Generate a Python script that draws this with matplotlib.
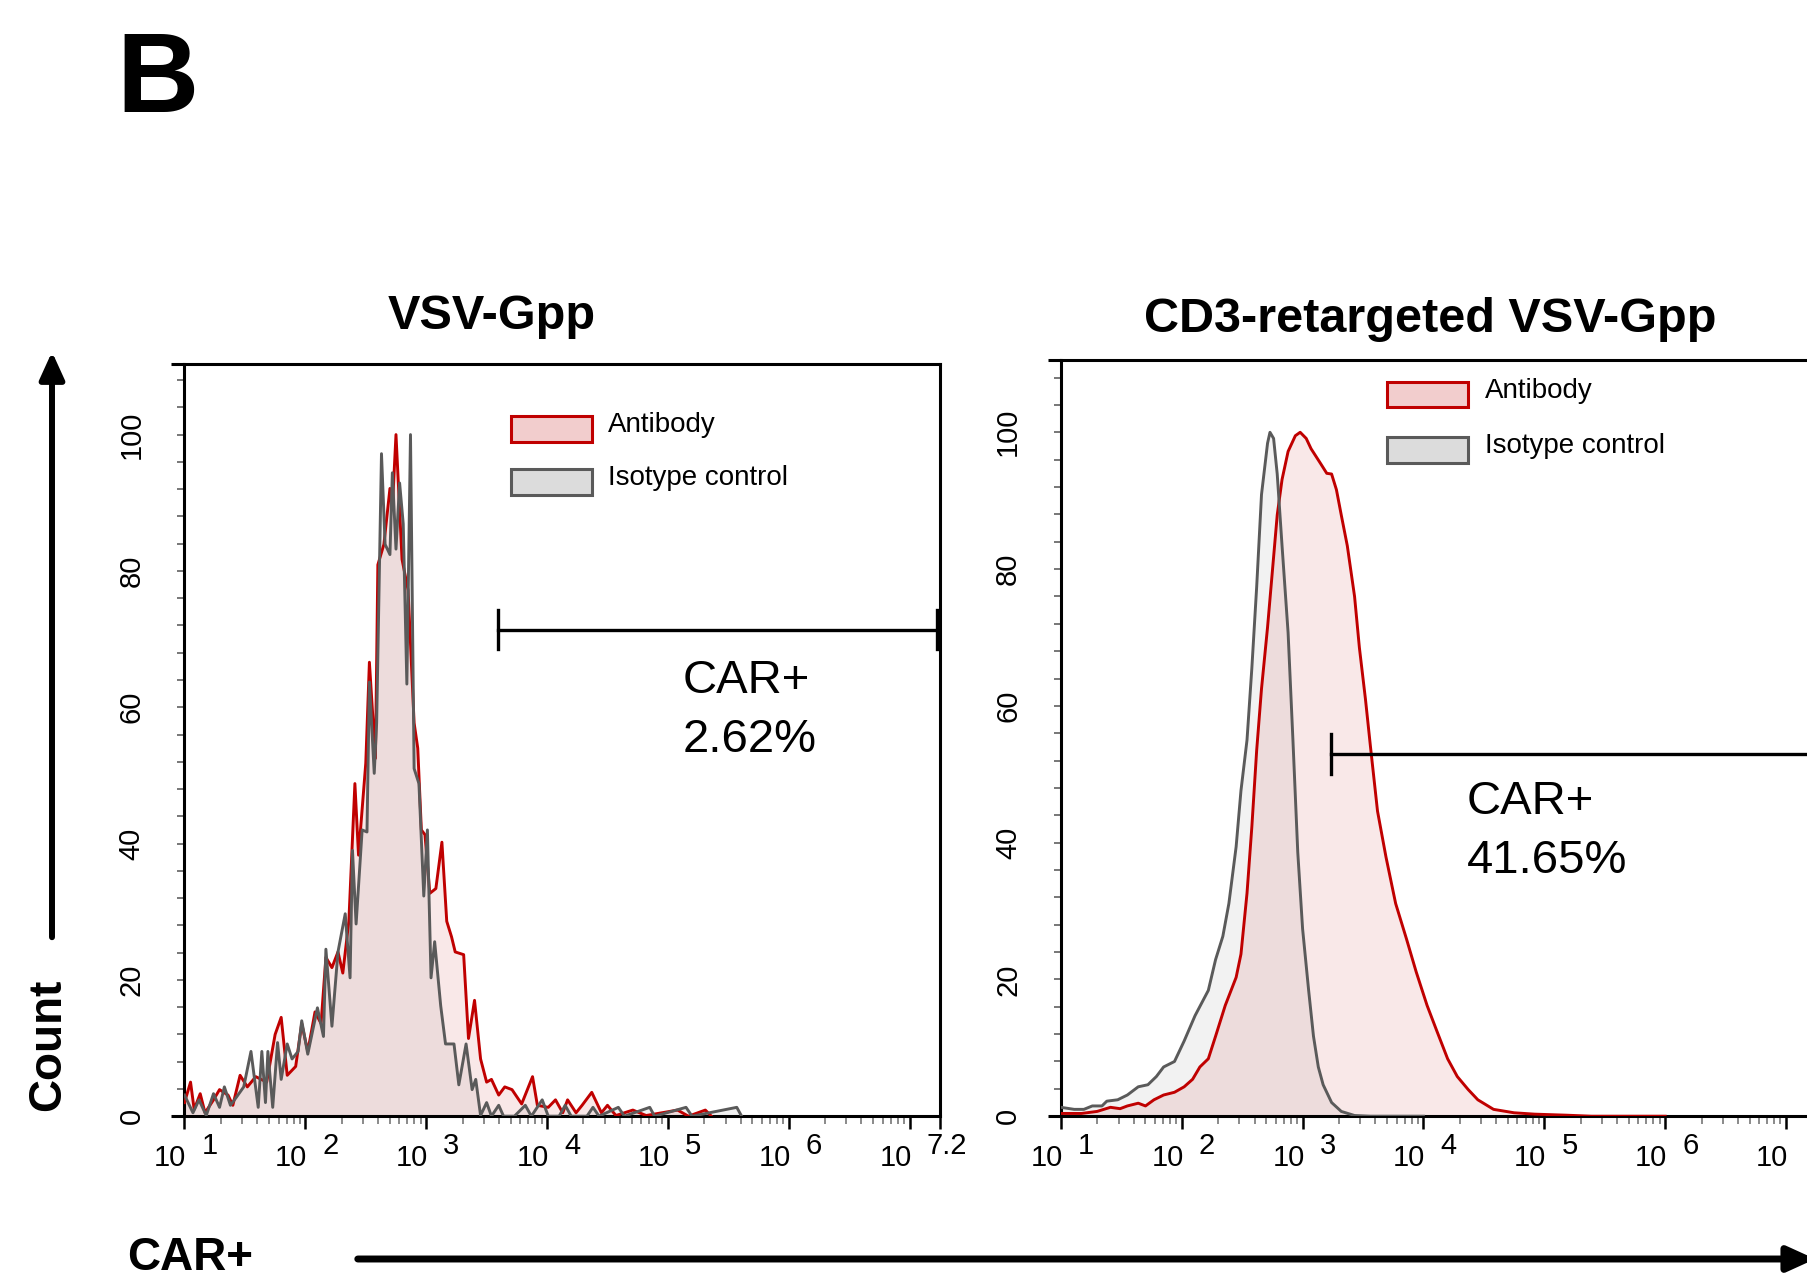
import matplotlib
matplotlib.use("Agg")
import matplotlib.pyplot as plt
import numpy as np
from matplotlib import transforms
from matplotlib.patches import Rectangle, FancyArrowPatch
from matplotlib.ticker import FixedLocator, NullFormatter

W, H = 1808, 1283
RED = "#c00000"
GREY = "#5a5a5a"
NARROW = ["Liberation Sans Narrow", "Liberation Sans", "DejaVu Sans"]
SANS = ["Liberation Sans", "DejaVu Sans"]

# ---- data (x as log10 fluorescence, y as % of max) ----
# VSV-Gpp
vsv_ab_log = [1.00, 1.05, 1.08, 1.13, 1.17, 1.24, 1.29, 1.36, 1.40,
              1.46, 1.52, 1.59, 1.68, 1.75, 1.80, 1.85, 1.92, 1.97, 2.02,
              2.08, 2.13, 2.17, 2.22, 2.27, 2.31, 2.36, 2.41, 2.44, 2.50,
              2.53, 2.58, 2.60, 2.65, 2.70, 2.72, 2.75, 2.80, 2.85, 2.90,
              2.93, 2.96, 2.99, 3.03, 3.08, 3.13, 3.17, 3.21, 3.24, 3.31,
              3.35, 3.40, 3.45, 3.50, 3.54, 3.60, 3.65, 3.71, 3.79, 3.88,
              3.92, 4.01, 4.07, 4.13, 4.17, 4.24, 4.29, 4.37, 4.45, 4.50,
              4.57, 4.71, 4.82, 5.08, 5.17, 5.31, 5.36]
vsv_ab_count = [2.0, 5.0, 1.0, 3.3, 0.5, 2.4, 3.9, 3.1, 1.6,
                6.0, 4.3, 5.8, 5.0, 12.0, 14.5, 6.0, 7.3, 13.6, 9.5,
                15.3, 13.6, 23.3, 21.8, 24.1, 21.0, 28.6, 48.8, 38.3, 51.8,
                66.6, 52.5, 80.9, 83.9, 92.1, 89.2, 100.0, 81.7, 77.2, 57.7,
                54.0, 42.0, 41.3, 32.7, 33.4, 40.2, 28.6, 26.3, 24.1, 23.7,
                11.4, 17.0, 8.4, 5.0, 5.4, 3.1, 4.3, 3.9, 1.8, 5.8,
                1.6, 1.3, 2.4, 0.5, 2.4, 0.5, 1.6, 3.5, 0.5, 1.6,
                0.1, 0.9, 0.1, 0.9, 0.0, 0.9, 0.0]
vsv_iso_log = [1.00, 1.07, 1.12, 1.18, 1.24, 1.29, 1.33, 1.38, 1.43, 1.49,
               1.55, 1.61, 1.64, 1.67, 1.69, 1.73, 1.77, 1.80, 1.85, 1.89,
               1.94, 1.97, 2.02, 2.10, 2.15, 2.17, 2.22, 2.27, 2.33, 2.37,
               2.39, 2.42, 2.47, 2.51, 2.53, 2.57, 2.59, 2.63, 2.66, 2.70,
               2.72, 2.75, 2.78, 2.81, 2.84, 2.87, 2.90, 2.94, 2.98, 3.01,
               3.04, 3.07, 3.12, 3.16, 3.23, 3.27, 3.33, 3.38, 3.41, 3.45,
               3.50, 3.54, 3.60, 3.64, 3.73, 3.82, 3.87, 3.96, 4.01, 4.10,
               4.15, 4.20, 4.33, 4.38, 4.43, 4.59, 4.64, 4.85, 4.89, 5.15,
               5.20, 5.57, 5.61]
vsv_iso_count = [3.1, 0.5, 2.4, 0.1, 3.3, 1.3, 4.3, 1.6, 2.8, 4.3,
                 9.5, 1.3, 9.5, 2.0, 9.5, 1.3, 10.8, 5.4, 10.6, 8.4,
                 9.5, 14.0, 9.1, 15.9, 11.7, 24.5, 13.2, 24.1, 29.7, 20.3,
                 39.0, 28.2, 42.0, 41.7, 63.7, 50.3, 57.7, 97.2, 83.9, 82.4,
                 94.4, 83.2, 92.9, 86.9, 63.4, 100.0, 51.0, 48.8, 32.3, 42.0,
                 20.3, 25.6, 16.2, 10.6, 10.6, 4.6, 10.6, 3.9, 5.4, 0.1,
                 2.0, 0.0, 1.6, 0.0, 0.0, 1.6, 0.0, 2.4, 0.0, 0.0,
                 1.6, 0.0, 0.0, 1.3, 0.0, 1.3, 0.0, 1.3, 0.0, 1.3,
                 0.0, 1.3, 0.0]

# CD3-retargeted VSV-Gpp
cd3_ab_log = [1.00, 1.17, 1.30, 1.41, 1.49, 1.55, 1.64, 1.70, 1.77, 1.85,
              1.94, 2.02, 2.09, 2.15, 2.22, 2.28, 2.36, 2.45, 2.49, 2.54,
              2.58, 2.62, 2.66, 2.71, 2.75, 2.79, 2.83, 2.88, 2.94, 2.98,
              3.03, 3.07, 3.11, 3.15, 3.20, 3.24, 3.28, 3.32, 3.37, 3.43,
              3.47, 3.52, 3.56, 3.62, 3.69, 3.77, 3.86, 3.94, 4.03, 4.11,
              4.20, 4.28, 4.37, 4.45, 4.58, 4.75, 4.92, 5.18, 5.39, 6.0]
cd3_ab_count = [0.4, 0.4, 0.7, 1.3, 1.1, 1.5, 1.9, 1.5, 2.4, 3.1,
                3.5, 4.3, 5.4, 7.2, 8.4, 11.7, 16.2, 20.3, 23.7, 32.6,
                42.3, 53.5, 62.5, 71.5, 79.7, 87.9, 93.1, 97.2, 99.5, 100.0,
                99.1, 97.6, 96.5, 95.4, 94.0, 93.9, 91.6, 87.9, 83.4, 76.0,
                68.5, 61.0, 54.3, 44.6, 37.9, 31.1, 25.9, 21.1, 16.2, 12.5,
                8.4, 5.8, 3.9, 2.4, 1.0, 0.5, 0.3, 0.15, 0.0, 0.0]
cd3_iso_log = [1.00, 1.11, 1.19, 1.26, 1.34, 1.38, 1.47, 1.55, 1.64, 1.72,
               1.79, 1.85, 1.94, 2.02, 2.11, 2.22, 2.28, 2.34, 2.39, 2.45,
               2.49, 2.54, 2.58, 2.62, 2.66, 2.71, 2.73, 2.76, 2.79, 2.83,
               2.88, 2.92, 2.96, 3.00, 3.05, 3.09, 3.13, 3.17, 3.24, 3.32,
               3.43, 3.56, 4.0]
cd3_iso_count = [1.3, 1.0, 1.0, 1.5, 1.5, 2.2, 2.4, 3.1, 4.3, 4.6,
                 5.8, 7.2, 8.0, 11.0, 14.7, 18.4, 22.9, 26.3, 31.1, 39.4,
                 47.6, 55.0, 65.5, 77.4, 90.9, 98.4, 100.0, 99.1, 93.9, 83.4,
                 70.7, 55.0, 38.6, 27.4, 18.4, 11.7, 7.2, 4.6, 2.0, 0.7,
                 0.1, 0.0, 0.0]

titles = ["VSV-Gpp", "CD3-retargeted VSV-Gpp"]
gate_start = [3.594, 3.232]          # log10 of gate start
gate_level = [71.4, 53.0]
gate_pct = ["2.62%", "41.65%"]
legend_labels = ["Antibody", "Isotype control"]
decades = [1, 2, 3, 4, 5, 6, 7]
exp_labels = ["1", "2", "3", "4", "5", "6", "7.2"]
y_ticks = [0, 20, 40, 60, 80, 100]
X_MAX = 7.25


def frac(x, y):
    return x / W, 1 - y / H


fig = plt.figure(figsize=(W / 100, H / 100), dpi=100)
fig.patch.set_facecolor("white")


def panel(rect, ymax, ab_log, ab_cnt, iso_log, iso_cnt, gx, gy, pct, txt, leg):
    l, t, r, b = rect
    ax = fig.add_axes([l / W, 1 - b / H, (r - l) / W, (b - t) / H])
    ax.set_xscale("log")
    ax.set_xlim(10 ** 1, 10 ** X_MAX)
    ax.set_ylim(0, ymax)

    xa = 10 ** np.array(ab_log)
    xi = 10 ** np.array(iso_log)
    ax.fill_between(xi, iso_cnt, 0, color=GREY, alpha=0.08, lw=0)
    ax.fill_between(xa, ab_cnt, 0, color=RED, alpha=0.09, lw=0)
    ax.plot(xa, ab_cnt, color=RED, lw=2.1, zorder=3)
    ax.plot(xi, iso_cnt, color=GREY, lw=2.1, zorder=3)

    for s in ax.spines.values():
        s.set_linewidth(2.2)
    axw = r - l
    for yy in (0, 1):
        ax.plot([-13 / axw, 0], [yy, yy], transform=ax.transAxes, color="black",
                lw=2.2, clip_on=False, solid_capstyle="butt")

    # x ticks
    ax.xaxis.set_major_locator(FixedLocator([10.0 ** k for k in decades] + [10 ** X_MAX]))
    minors = [m * 10.0 ** k for k in range(1, 8) for m in range(2, 10) if m * 10.0 ** k < 10 ** X_MAX]
    ax.xaxis.set_minor_locator(FixedLocator(minors))
    ax.xaxis.set_major_formatter(NullFormatter())
    ax.xaxis.set_minor_formatter(NullFormatter())
    ax.tick_params(axis="x", which="major", direction="out", length=9, width=1.8, color="black")
    ax.tick_params(axis="x", which="minor", direction="out", length=6, width=1.4, color="#8a8a8a")
    xt = transforms.blended_transform_factory(ax.transData, ax.transAxes)
    for k, lab in zip(decades, exp_labels):
        ax.text(10.0 ** k, 0, "10", ha="right", va="center", fontsize=21, family=NARROW,
                transform=xt + transforms.ScaledTranslation(0.02, -0.42, fig.dpi_scale_trans),
                clip_on=False)
        # the exponent of the last label falls outside the figure on the right panel
        if l + (k - 1) / (X_MAX - 1) * axw + 40 > W:
            continue
        ax.text(10.0 ** k, 0, lab, ha="left", va="center", fontsize=21, family=NARROW,
                transform=xt + transforms.ScaledTranslation(0.17, -0.30, fig.dpi_scale_trans),
                clip_on=False)

    # y ticks
    ax.set_yticks(y_ticks)
    ax.set_yticklabels([str(v) for v in y_ticks], rotation=90, va="center",
                       fontsize=21, family=NARROW)
    ax.yaxis.set_minor_locator(FixedLocator(np.arange(0, ymax, 4)))
    ax.tick_params(axis="y", which="both", direction="out", length=5, width=1.4,
                   color="#777777")
    ax.tick_params(axis="y", which="major", pad=23)

    # gate
    g0 = 10 ** gx
    g1 = 10 ** (X_MAX - 0.02)
    ax.plot([g0, g1], [gy, gy], color="black", lw=2.4, clip_on=False, zorder=4)
    for gxx in (g0, g1):
        ax.plot([gxx, gxx], [gy - 2.9, gy + 2.9], color="black", lw=2.4, clip_on=False, zorder=4)
    ax.text(txt[0], txt[1], "CAR+", transform=ax.transAxes, fontsize=34, family=SANS,
            va="baseline", ha="left")
    ax.text(txt[0], txt[2], pct, transform=ax.transAxes, fontsize=34, family=SANS,
            va="baseline", ha="left")

    # legend
    bx, bw, bh, tx = leg[0], 0.1069, 0.0338, leg[3]
    styles = [(RED, "#f2cdcd"), (GREY, "#dcdcdc")]
    for lab, by, (ec, fc) in zip(legend_labels, leg[1:3], styles):
        ax.add_patch(Rectangle((bx, by - bh / 2), bw, bh, transform=ax.transAxes,
                               facecolor=fc, edgecolor=ec, lw=2.2, clip_on=False, zorder=5))
        ax.text(tx, by - 0.004, lab, transform=ax.transAxes, fontsize=20, family=SANS,
                va="baseline", ha="left")
    return ax


panel((184.5, 364.4, 939.8, 1116.2), 110.3, vsv_ab_log, vsv_ab_count, vsv_iso_log,
      vsv_iso_count, gate_start[0], gate_level[0], gate_pct[0],
      (0.6595, 0.563, 0.4847), (0.432, 0.914, 0.8436, 0.5603))
panel((1060.9, 359.8, 1816.2, 1116.2), 110.6, cd3_ab_log, cd3_ab_count, cd3_iso_log,
      cd3_iso_count, gate_start[1], gate_level[1], gate_pct[1],
      (0.537, 0.3995, 0.3217), (0.432, 0.954, 0.881, 0.5617))

# titles and labels
fig.text(*frac(492, 328.6), titles[0], ha="center", va="baseline", fontsize=35,
         fontweight="bold", family=SANS)
fig.text(*frac(1430, 332), titles[1], ha="center", va="baseline", fontsize=35,
         fontweight="bold", family=SANS)
fig.text(*frac(116, 112), "B", ha="left", va="baseline", fontsize=82,
         fontweight="bold", family=SANS)
fig.text(*frac(48, 1045), "Count", ha="center", va="center", rotation=90,
         fontsize=33, fontweight="bold", family=SANS)
fig.text(*frac(190, 1258), "CAR+", ha="center", va="center", fontsize=33,
         fontweight="bold", family=SANS)

# axis arrows
fig.add_artist(FancyArrowPatch(frac(52, 940), frac(52, 349), transform=fig.transFigure,
                               arrowstyle="-|>,head_length=0.55,head_width=0.25",
                               mutation_scale=30, lw=4.3, color="black"))
fig.add_artist(FancyArrowPatch(frac(355, 1259), frac(1818, 1259), transform=fig.transFigure,
                               arrowstyle="-|>,head_length=0.55,head_width=0.25",
                               mutation_scale=30, lw=5.0, color="black"))

fig.savefig("out.png", dpi=100, facecolor="white")
